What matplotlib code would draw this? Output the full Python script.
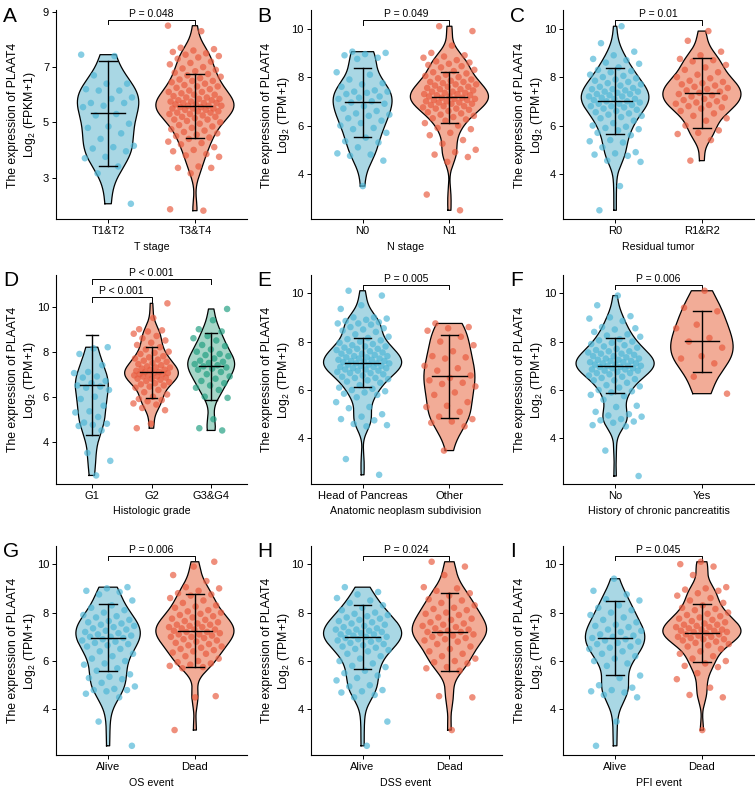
import numpy as np
import matplotlib
matplotlib.use('Agg')
import matplotlib.pyplot as plt

plt.rcParams['font.family'] = ['Liberation Sans', 'DejaVu Sans']
plt.rcParams['mathtext.fontset'] = 'custom'
plt.rcParams['mathtext.rm'] = 'Liberation Sans'
plt.rcParams['mathtext.it'] = 'Liberation Sans'

# ---- data ----
a_cats = ['T1&T2', 'T3&T4']
a_t12 = [7.45, 7.4, 6.7, 6.4, 6.4, 6.2, 6.15, 6.15, 5.9, 5.85, 5.7, 5.7, 5.6, 5.55, 5.3, 5.25, 4.95,
         4.85, 4.8, 4.6, 4.4, 4.15, 4.1, 4.05, 3.95, 3.75, 3.7, 3.4, 3.15, 2.05]
a_t34 = [8.5, 8.3, 7.7, 7.65, 7.6, 7.55, 7.5, 7.45, 7.4, 7.35, 7.3, 7.2, 7.15, 7.1, 7.0, 6.95, 6.9, 6.85,
         6.8, 6.75, 6.7, 6.65, 6.6, 6.55, 6.5, 6.5, 6.45, 6.4, 6.35, 6.3, 6.3, 6.25, 6.2, 6.15, 6.1, 6.1,
         6.05, 6.0, 6.0, 5.95, 5.9, 5.9, 5.85, 5.85, 5.8, 5.8, 5.75, 5.75, 5.7, 5.7, 5.7, 5.65, 5.65, 5.6,
         5.6, 5.6, 5.55, 5.55, 5.5, 5.5, 5.5, 5.45, 5.45, 5.4, 5.4, 5.35, 5.35, 5.3, 5.3, 5.25, 5.2, 5.2,
         5.15, 5.1, 5.1, 5.05, 5.0, 4.95, 4.9, 4.85, 4.8, 4.75, 4.7, 4.65, 4.6, 4.55, 4.5, 4.45, 4.4, 4.3,
         4.25, 4.2, 4.1, 4.0, 3.95, 3.85, 3.8, 3.75, 3.4, 3.35, 3.35, 3.15, 1.85, 1.8]
a_mean = [5.32, 5.59]
a_sd = [1.9, 1.16]

b_cats = ['N0', 'N1']
b_n0 = [9.05, 9.0, 8.95, 8.9, 8.8, 8.75, 8.2, 8.1, 7.9, 7.75, 7.7, 7.6, 7.45, 7.4, 7.4, 7.35, 7.3, 7.2,
        7.15, 7.1, 7.0, 6.95, 6.9, 6.8, 6.7, 6.6, 6.5, 6.45, 6.4, 6.3, 6.2, 6.1, 6.0, 5.9, 5.85, 5.7,
        5.5, 5.35, 5.3, 5.1, 4.85, 4.8, 4.75, 4.55, 3.5]
b_n1 = [10.1, 9.9, 9.3, 9.0, 8.9, 8.85, 8.8, 8.7, 8.65, 8.6, 8.55, 8.5, 8.45, 8.4, 8.3, 8.25, 8.2, 8.15,
        8.1, 8.05, 8.0, 7.95, 7.9, 7.85, 7.8, 7.8, 7.75, 7.7, 7.7, 7.65, 7.6, 7.6, 7.55, 7.5, 7.5, 7.45,
        7.4, 7.4, 7.35, 7.35, 7.3, 7.3, 7.25, 7.25, 7.2, 7.2, 7.15, 7.15, 7.1, 7.1, 7.05, 7.05, 7.0, 7.0,
        6.95, 6.95, 6.9, 6.9, 6.85, 6.8, 6.8, 6.75, 6.7, 6.7, 6.65, 6.6, 6.55, 6.5, 6.45, 6.4, 6.35, 6.3,
        6.25, 6.2, 6.1, 6.0, 5.9, 5.85, 5.7, 5.6, 5.4, 5.25, 5.0, 4.9, 4.8, 4.7, 4.5, 3.15, 2.5]
b_mean = [6.96, 7.17]
b_sd = [1.43, 1.05]

c_cats = ['R0', 'R1&R2']
c_r0 = [10.1, 9.4, 9.05, 8.9, 8.75, 8.7, 8.6, 8.55, 8.4, 8.3, 8.25, 8.2, 8.1, 8.05, 8.0, 7.95, 7.9, 7.85,
        7.8, 7.75, 7.7, 7.65, 7.6, 7.55, 7.5, 7.5, 7.45, 7.4, 7.4, 7.35, 7.3, 7.3, 7.25, 7.2, 7.2, 7.15,
        7.1, 7.1, 7.05, 7.0, 7.0, 6.95, 6.9, 6.9, 6.85, 6.8, 6.8, 6.75, 6.7, 6.65, 6.6, 6.55, 6.5, 6.45,
        6.4, 6.35, 6.3, 6.2, 6.1, 6.0, 5.95, 5.9, 5.85, 5.8, 5.7, 5.6, 5.4, 5.35, 5.3, 5.1, 4.9, 4.85,
        4.8, 4.75, 4.55, 4.5, 3.5, 2.5]
c_r12 = [9.9, 9.5, 9.05, 8.9, 8.75, 8.7, 8.65, 8.5, 8.4, 8.3, 8.2, 8.1, 8.0, 7.95, 7.85, 7.8, 7.75, 7.7,
         7.65, 7.6, 7.55, 7.5, 7.45, 7.4, 7.35, 7.3, 7.25, 7.2, 7.15, 7.1, 7.05, 7.0, 6.95, 6.9, 6.85,
         6.8, 6.75, 6.7, 6.6, 6.5, 6.4, 6.3, 6.2, 6.0, 5.8, 5.7, 5.65, 5.4, 4.55]
c_mean = [7.02, 7.34]
c_sd = [1.35, 1.43]

d_cats = ['G1', 'G2', 'G3&G4']
d_g1 = [8.2, 8.15, 7.9, 7.4, 7.1, 7.05, 6.9, 6.85, 6.7, 6.6, 6.5, 6.45, 6.4, 6.3, 6.0, 5.9, 5.6, 5.35,
        5.3, 5.1, 4.85, 4.8, 4.75, 4.7, 4.5, 3.5, 3.15, 2.5]
d_g2 = [10.15, 9.5, 9.0, 8.95, 8.9, 8.8, 8.7, 8.6, 8.5, 8.4, 8.3, 8.2, 8.1, 8.0, 7.95, 7.9, 7.8, 7.75,
        7.7, 7.65, 7.6, 7.55, 7.5, 7.45, 7.4, 7.35, 7.3, 7.3, 7.25, 7.2, 7.2, 7.15, 7.1, 7.1, 7.05, 7.05,
        7.0, 7.0, 6.95, 6.95, 6.9, 6.9, 6.85, 6.8, 6.8, 6.75, 6.7, 6.65, 6.6, 6.55, 6.5, 6.45, 6.4, 6.3,
        6.2, 6.1, 6.0, 5.9, 5.85, 5.8, 5.7, 5.65, 5.5, 5.4, 4.8, 4.6]
d_g34 = [9.9, 9.4, 9.0, 8.9, 8.7, 8.6, 8.5, 8.3, 8.25, 8.1, 8.0, 7.9, 7.85, 7.8, 7.7, 7.6, 7.55, 7.5,
         7.45, 7.4, 7.35, 7.3, 7.25, 7.2, 7.1, 7.0, 6.9, 6.8, 6.7, 6.6, 6.5, 6.4, 6.3, 6.0, 5.95, 5.0,
         4.6, 4.5]
d_mean = [6.52, 7.08, 7.36]
d_sd = [2.22, 1.14, 1.49]

e_cats = ['Head of Pancreas', 'Other']
e_head = [10.1, 9.9, 9.5, 9.35, 9.0, 9.0, 8.95, 8.9, 8.85, 8.8, 8.75, 8.75, 8.7, 8.6, 8.55, 8.5, 8.45,
          8.4, 8.3, 8.2, 8.15, 8.1, 8.05, 8.0, 7.95, 7.9, 7.85, 7.8, 7.8, 7.75, 7.7, 7.7, 7.65, 7.6, 7.6,
          7.55, 7.5, 7.5, 7.45, 7.4, 7.4, 7.35, 7.35, 7.3, 7.3, 7.25, 7.25, 7.2, 7.2, 7.15, 7.15, 7.1,
          7.1, 7.1, 7.05, 7.05, 7.0, 7.0, 6.95, 6.95, 6.9, 6.9, 6.85, 6.85, 6.8, 6.8, 6.75, 6.7, 6.7,
          6.65, 6.6, 6.55, 6.5, 6.5, 6.45, 6.4, 6.35, 6.3, 6.2, 6.1, 6.05, 6.0, 5.95, 5.9, 5.85, 5.8,
          5.7, 5.5, 5.3, 5.25, 5.0, 4.9, 4.8, 4.75, 4.6, 4.55, 4.5, 3.15, 2.5]
e_other = [8.75, 8.6, 8.55, 8.45, 8.2, 8.0, 7.85, 7.6, 7.4, 7.35, 7.3, 7.0, 6.9, 6.8, 6.6, 6.5, 6.4,
           6.3, 6.25, 6.15, 5.9, 5.8, 5.5, 5.35, 5.3, 5.1, 4.9, 4.8, 4.7, 4.65, 4.5, 3.5]
e_mean = [7.12, 6.57]
e_sd = [1.01, 1.72]

f_cats = ['No', 'Yes']
f_no = [9.9, 9.5, 9.05, 9.0, 8.95, 8.85, 8.6, 8.55, 8.5, 8.4, 8.3, 8.25, 8.2, 8.1, 8.05, 8.0, 7.95, 7.9,
        7.85, 7.8, 7.75, 7.7, 7.65, 7.6, 7.6, 7.55, 7.5, 7.5, 7.45, 7.4, 7.4, 7.35, 7.3, 7.3, 7.25, 7.25,
        7.2, 7.2, 7.15, 7.15, 7.1, 7.1, 7.05, 7.05, 7.0, 7.0, 7.0, 6.95, 6.95, 6.9, 6.9, 6.85, 6.85, 6.8,
        6.8, 6.75, 6.7, 6.7, 6.65, 6.6, 6.55, 6.5, 6.45, 6.4, 6.4, 6.3, 6.2, 6.15, 6.1, 6.0, 5.95, 5.9,
        5.8, 5.75, 5.6, 5.35, 5.3, 5.1, 5.0, 4.95, 4.9, 4.8, 4.75, 4.7, 4.65, 4.55, 4.5, 3.5, 2.45]
f_yes = [10.1, 9.4, 9.25, 8.7, 8.55, 8.15, 8.0, 7.75, 7.4, 7.3, 7.1, 6.55, 5.85]
f_mean = [7.01, 8.01]
f_sd = [1.14, 1.26]

g_cats = ['Alive', 'Dead']
g_alive = [9.05, 9.0, 8.9, 8.85, 8.75, 8.5, 8.3, 8.2, 8.1, 8.0, 7.9, 7.85, 7.8, 7.7, 7.65, 7.6, 7.55,
           7.5, 7.45, 7.4, 7.35, 7.3, 7.25, 7.2, 7.15, 7.1, 7.05, 7.0, 7.0, 6.95, 6.9, 6.85, 6.8, 6.75,
           6.7, 6.65, 6.6, 6.5, 6.4, 6.3, 6.2, 6.1, 6.0, 5.9, 5.85, 5.7, 5.6, 5.45, 5.35, 5.3, 5.25, 5.1,
           4.95, 4.85, 4.8, 4.8, 4.75, 4.65, 4.5, 3.5, 2.5]
g_dead = [10.1, 9.9, 9.55, 9.3, 9.05, 9.0, 8.9, 8.8, 8.75, 8.7, 8.6, 8.5, 8.4, 8.3, 8.25, 8.2, 8.1,
          8.05, 8.0, 7.95, 7.9, 7.85, 7.8, 7.75, 7.7, 7.65, 7.6, 7.55, 7.5, 7.5, 7.45, 7.4, 7.4, 7.35,
          7.3, 7.3, 7.25, 7.2, 7.2, 7.15, 7.1, 7.1, 7.05, 7.0, 7.0, 6.95, 6.9, 6.85, 6.8, 6.75, 6.7,
          6.65, 6.6, 6.55, 6.5, 6.45, 6.4, 6.35, 6.3, 6.2, 6.1, 6.0, 5.95, 5.9, 5.85, 5.8, 5.75, 5.7,
          4.55, 4.5, 3.15]
g_mean = [6.97, 7.26]
g_sd = [1.37, 1.49]

h_cats = ['Alive', 'Dead']
h_alive = [9.05, 8.85, 8.75, 8.6, 8.5, 8.4, 8.3, 8.2, 8.1, 8.0, 7.95, 7.9, 7.85, 7.8, 7.75, 7.7, 7.65,
           7.6, 7.55, 7.5, 7.45, 7.4, 7.35, 7.3, 7.3, 7.25, 7.2, 7.2, 7.15, 7.1, 7.1, 7.05, 7.0, 7.0,
           6.95, 6.9, 6.9, 6.85, 6.8, 6.75, 6.7, 6.65, 6.6, 6.55, 6.5, 6.45, 6.4, 6.3, 6.2, 6.1, 6.0,
           5.9, 5.8, 5.75, 5.6, 5.5, 5.4, 5.3, 5.2, 5.0, 4.95, 4.8, 4.75, 4.7, 4.6, 4.5, 3.5, 2.5]
h_dead = [10.1, 9.9, 9.55, 9.05, 9.0, 8.9, 8.8, 8.7, 8.55, 8.5, 8.4, 8.3, 8.2, 8.15, 8.1, 8.0, 7.95,
          7.9, 7.8, 7.75, 7.7, 7.6, 7.55, 7.5, 7.45, 7.4, 7.35, 7.3, 7.25, 7.2, 7.2, 7.15, 7.1, 7.05,
          7.0, 6.95, 6.9, 6.85, 6.8, 6.7, 6.6, 6.5, 6.4, 6.3, 6.2, 6.1, 6.0, 5.95, 5.9, 5.75, 5.7, 5.6,
          4.55, 4.5, 3.15]
h_mean = [6.99, 7.2]
h_sd = [1.33, 1.6]

i_cats = ['Alive', 'Dead']
i_alive = [9.4, 8.9, 8.75, 8.55, 8.5, 8.3, 8.2, 8.1, 8.0, 7.9, 7.8, 7.7, 7.6, 7.5, 7.45, 7.4, 7.3, 7.25,
           7.2, 7.1, 7.05, 7.0, 6.95, 6.9, 6.85, 6.8, 6.75, 6.7, 6.6, 6.55, 6.5, 6.4, 6.3, 6.2, 6.1, 6.0,
           5.9, 5.8, 5.4, 5.3, 5.0, 4.9, 4.8, 4.75, 4.7, 4.6, 4.5, 3.5, 2.5]
i_dead = [10.1, 10.0, 9.9, 9.55, 9.05, 9.0, 8.95, 8.9, 8.8, 8.7, 8.6, 8.5, 8.4, 8.3, 8.2, 8.15, 8.1, 8.0,
          7.95, 7.9, 7.85, 7.8, 7.75, 7.7, 7.65, 7.6, 7.55, 7.5, 7.5, 7.45, 7.4, 7.4, 7.35, 7.3, 7.3,
          7.25, 7.25, 7.2, 7.2, 7.15, 7.1, 7.1, 7.05, 7.0, 7.0, 6.95, 6.9, 6.9, 6.85, 6.8, 6.75, 6.7,
          6.65, 6.6, 6.5, 6.4, 6.3, 6.2, 6.1, 6.0, 5.9, 5.8, 5.75, 5.5, 5.25, 4.9, 4.6, 4.5, 3.15]
i_mean = [6.95, 7.17]
i_sd = [1.53, 1.2]

# ---- styling ----
blue, red, green = '#4DB6D6', '#E85A3E', '#1F9E80'
fill_blue, fill_red, fill_green = '#A9D7E4', '#F2AC97', '#A6D6C8'

panels = [
    dict(L='A', cats=a_cats, vals=[a_t12, a_t34], mean=a_mean, sd=a_sd, xl='T stage', unit='FPKM+1',
         ylim=(1.48, 9.05), yt=[3, 5, 7, 9], p=[(0, 1, 'P = 0.048')]),
    dict(L='B', cats=b_cats, vals=[b_n0, b_n1], mean=b_mean, sd=b_sd, xl='N stage', unit='TPM+1',
         ylim=(2.12, 10.75), yt=[4, 6, 8, 10], p=[(0, 1, 'P = 0.049')]),
    dict(L='C', cats=c_cats, vals=[c_r0, c_r12], mean=c_mean, sd=c_sd, xl='Residual tumor', unit='TPM+1',
         ylim=(2.12, 10.75), yt=[4, 6, 8, 10], p=[(0, 1, 'P = 0.01')]),
    dict(L='D', cats=d_cats, vals=[d_g1, d_g2, d_g34], mean=d_mean, sd=d_sd, xl='Histologic grade',
         unit='TPM+1', ylim=(2.12, 11.41), yt=[4, 6, 8, 10],
         p=[(0, 1, 'P < 0.001'), (0, 2, 'P < 0.001')]),
    dict(L='E', cats=e_cats, vals=[e_head, e_other], mean=e_mean, sd=e_sd, xl='Anatomic neoplasm subdivision',
         unit='TPM+1', ylim=(2.12, 10.75), yt=[4, 6, 8, 10], p=[(0, 1, 'P = 0.005')]),
    dict(L='F', cats=f_cats, vals=[f_no, f_yes], mean=f_mean, sd=f_sd, xl='History of chronic pancreatitis',
         unit='TPM+1', ylim=(2.12, 10.75), yt=[4, 6, 8, 10], p=[(0, 1, 'P = 0.006')]),
    dict(L='G', cats=g_cats, vals=[g_alive, g_dead], mean=g_mean, sd=g_sd, xl='OS event', unit='TPM+1',
         ylim=(2.12, 10.75), yt=[4, 6, 8, 10], p=[(0, 1, 'P = 0.006')]),
    dict(L='H', cats=h_cats, vals=[h_alive, h_dead], mean=h_mean, sd=h_sd, xl='DSS event', unit='TPM+1',
         ylim=(2.12, 10.75), yt=[4, 6, 8, 10], p=[(0, 1, 'P = 0.024')]),
    dict(L='I', cats=i_cats, vals=[i_alive, i_dead], mean=i_mean, sd=i_sd, xl='PFI event', unit='TPM+1',
         ylim=(2.12, 10.75), yt=[4, 6, 8, 10], p=[(0, 1, 'P = 0.045')]),
]

W, H = 755, 790
col_left = [56, 310.5, 563]
col_w = 191
row_top = [10.5, 275, 546]
row_h = 209


def kde(v, grid):
    v = np.asarray(v, float)
    n = len(v)
    iqr = np.subtract(*np.percentile(v, [75, 25]))
    bw = 0.9 * min(v.std(ddof=1), iqr / 1.34) * n ** -0.2
    z = (grid[:, None] - v[None, :]) / bw
    return np.exp(-0.5 * z ** 2).sum(1) / (n * bw * np.sqrt(2 * np.pi))


fig = plt.figure(figsize=(W / 100, H / 100), dpi=100)

for k, pn in enumerate(panels):
    r, c = divmod(k, 3)
    ax = fig.add_axes([col_left[c] / W, 1 - (row_top[r] + row_h) / H, col_w / W, row_h / H])
    ng = len(pn['cats'])
    cols = [blue, red, green][:ng]
    fills = [fill_blue, fill_red, fill_green][:ng]
    pos = np.arange(1, ng + 1)

    # violins, scale="area"
    dens = []
    for v in pn['vals']:
        grid = np.linspace(min(v), max(v), 300)
        dens.append((grid, kde(v, grid)))
    dmax = max(d.max() for _, d in dens)
    for x, (grid, d), fc in zip(pos, dens, fills):
        hw = 0.45 * d / dmax
        ax.fill_betweenx(grid, x - hw, x + hw, facecolor=fc, edgecolor='none', zorder=1)
        xs = np.concatenate([x - hw, (x + hw)[::-1], [x - hw[0]]])
        ys = np.concatenate([grid, grid[::-1], [grid[0]]])
        ax.plot(xs, ys, color='black', lw=0.9, zorder=2)

    # jittered points
    for x, v, col in zip(pos, pn['vals'], cols):
        n = len(v)
        off = ((np.arange(n) * 0.6180339887 + 0.31 * k) % 1 - 0.5) * 0.62
        ax.scatter(x + off, v, s=22, color=col, alpha=0.68, edgecolors='none', zorder=3)

    # mean +/- sd
    for x, m, s in zip(pos, pn['mean'], pn['sd']):
        ax.plot([x, x], [m - s, m + s], color='black', lw=1.0, zorder=4)
        ax.plot([x - 0.1, x + 0.1], [m + s, m + s], color='black', lw=1.0, zorder=4)
        ax.plot([x - 0.1, x + 0.1], [m - s, m - s], color='black', lw=1.0, zorder=4)
        ax.plot([x - 0.2, x + 0.2], [m, m], color='black', lw=1.0, zorder=4)

    # p-value brackets
    rng = pn['ylim'][1] - pn['ylim'][0]
    top = max(max(v) for v in pn['vals'])
    for j, (g1, g2, txt) in enumerate(pn['p']):
        yb = top + 0.028 * rng + j * 0.088 * rng
        tk = 0.022 * rng
        ax.plot([pos[g1], pos[g1], pos[g2], pos[g2]], [yb - tk, yb, yb, yb - tk], color='black', lw=0.7)
        ax.text((pos[g1] + pos[g2]) / 2, yb + 0.006 * rng, txt, ha='center', va='bottom', fontsize=7.5)

    ax.set_xlim(0.4, ng + 0.6)
    ax.set_ylim(*pn['ylim'])
    ax.set_xticks(pos)
    ax.set_xticklabels(pn['cats'], fontsize=7.8)
    ax.set_yticks(pn['yt'])
    ax.tick_params(labelsize=8, length=3, width=0.7, pad=2)
    for sp in ['top', 'right']:
        ax.spines[sp].set_visible(False)
    for sp in ['left', 'bottom']:
        ax.spines[sp].set_linewidth(0.8)
    ax.set_xlabel(pn['xl'], fontsize=7.7, labelpad=4)
    ax.set_ylabel('The expression of PLAAT4\nLog$_2$ (' + pn['unit'] + ')', fontsize=8.8, linespacing=1.3)
    ax.yaxis.set_label_coords(-0.095, 0.5)

    fig.text((col_left[c] - 53) / W, 1 - (row_top[r] - 4) / H, pn['L'], fontsize=15, ha='left', va='top')

fig.savefig('out.png', dpi=100)
